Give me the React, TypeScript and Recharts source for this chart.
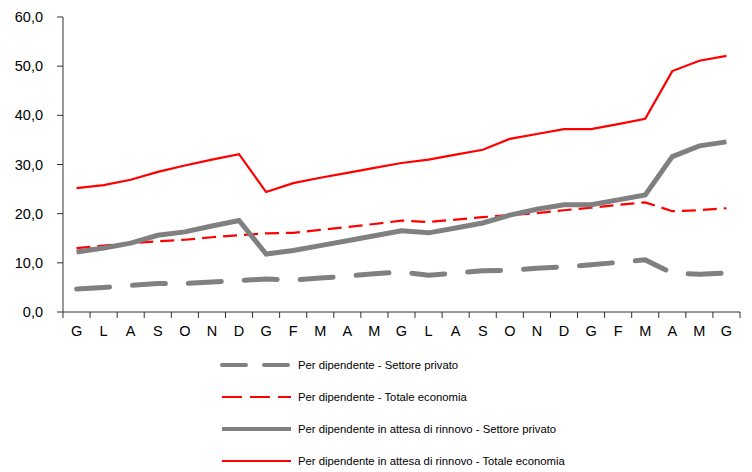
import React from 'react';
import { LineChart, Line, XAxis, YAxis, Legend } from 'recharts';

const months = ['G', 'L', 'A', 'S', 'O', 'N', 'D', 'G', 'F', 'M', 'A', 'M', 'G', 'L', 'A', 'S', 'O', 'N', 'D', 'G', 'F', 'M', 'A', 'M', 'G'];

const privatoDip = [4.7, 5.0, 5.4, 5.8, 5.8, 6.1, 6.4, 6.7, 6.5, 6.9, 7.3, 7.8, 8.1, 7.5, 7.9, 8.4, 8.5, 8.9, 9.2, 9.6, 10.1, 10.6, 7.9, 7.7, 7.9];
const totaleDip = [13.0, 13.5, 14.0, 14.4, 14.7, 15.2, 15.6, 16.0, 16.1, 16.7, 17.3, 17.9, 18.6, 18.3, 18.8, 19.3, 19.7, 20.1, 20.7, 21.2, 21.8, 22.3, 20.5, 20.7, 21.1];
const privatoAttesa = [12.2, 13.0, 14.0, 15.6, 16.3, 17.5, 18.6, 11.8, 12.5, 13.5, 14.5, 15.5, 16.5, 16.1, 17.1, 18.1, 19.7, 20.9, 21.8, 21.8, 22.8, 23.8, 31.6, 33.8, 34.6];
const totaleAttesa = [25.2, 25.8, 26.9, 28.5, 29.8, 31.0, 32.1, 24.4, 26.2, 27.3, 28.3, 29.3, 30.3, 31.0, 32.0, 33.0, 35.2, 36.2, 37.2, 37.2, 38.2, 39.3, 49.0, 51.1, 52.1];

const yTicks = [0, 10, 20, 30, 40, 50, 60];

const data = months.map((m, i) => ({
  i,
  m,
  privatoDip: privatoDip[i],
  totaleDip: totaleDip[i],
  privatoAttesa: privatoAttesa[i],
  totaleAttesa: totaleAttesa[i],
}));

// ticks at every category centre (labels) and every boundary (tick marks)
const xTicks: number[] = [];
for (let k = 0; k <= months.length; k++) {
  xTicks.push(k - 0.5);
  if (k < months.length) xTicks.push(k);
}

const FONT = 'Liberation Sans, Arial, sans-serif';

const series = [
  { key: 'privatoDip', name: 'Per dipendente - Settore privato', color: '#808080', width: 5, dash: '33 23', legendDash: '24 18', cap: 'round' as const },
  { key: 'totaleDip', name: 'Per dipendente - Totale economia', color: '#ff0000', width: 2.2, dash: '14 7', legendDash: '20 8', cap: 'butt' as const },
  { key: 'privatoAttesa', name: 'Per dipendente in attesa di rinnovo - Settore privato', color: '#808080', width: 5, dash: undefined, legendDash: undefined, cap: 'butt' as const },
  { key: 'totaleAttesa', name: 'Per dipendente in attesa di rinnovo - Totale economia', color: '#ff0000', width: 2.2, dash: undefined, legendDash: undefined, cap: 'butt' as const },
];

const XTick = (props: any) => {
  const { x, y, payload } = props;
  const v = payload.value as number;
  if (!Number.isInteger(v)) {
    return <line x1={x} x2={x} y1={y} y2={y + 6} stroke="#333" strokeWidth={1} />;
  }
  return (
    <text x={x} y={y + 24} textAnchor="middle" fontSize={14.5} fontFamily={FONT} fill="#000">
      {months[v]}
    </text>
  );
};

const LegendBox = () => (
  <div style={{ position: 'relative', width: 744, height: 120, fontFamily: FONT }}>
    {series.map((s, idx) => (
      <div key={s.key} style={{ position: 'absolute', top: idx * 32, left: 0, height: 30, width: 744 }}>
        <svg width={290} height={30} style={{ position: 'absolute', left: 0, top: 0 }}>
          <line
            x1={214}
            x2={283}
            y1={15}
            y2={15}
            stroke={s.color}
            strokeWidth={s.width === 5 ? 4 : 2.2}
            strokeDasharray={s.legendDash}
            strokeLinecap={s.cap}
          />
        </svg>
        <span style={{ position: 'absolute', left: 290, top: 8, fontSize: 11.3, lineHeight: '14px', color: '#000', whiteSpace: 'nowrap' }}>
          {s.name}
        </span>
      </div>
    ))}
  </div>
);

export default function App() {
  return (
    <LineChart width={744} height={464} data={data} margin={{ top: 9, right: 12, left: 0, bottom: 10 }}>
      <XAxis
        dataKey="i"
        type="number"
        domain={[-0.5, months.length - 0.5]}
        ticks={xTicks}
        interval={0}
        tick={<XTick />}
        tickLine={false}
        tickSize={0}
        tickMargin={0}
        height={30}
        axisLine={{ stroke: '#333' }}
        allowDataOverflow
      />
      <YAxis
        domain={[0, 60]}
        ticks={yTicks}
        interval={0}
        width={55}
        tickSize={6}
        tickMargin={14}
        tickFormatter={(v: number) => v.toFixed(1).replace('.', ',')}
        tick={{ fontSize: 14.5, fontFamily: FONT, fill: '#000' }}
        tickLine={{ stroke: '#333' }}
        axisLine={{ stroke: '#333' }}
      />
      <Legend
        layout="vertical"
        align="center"
        verticalAlign="bottom"
        content={<LegendBox />}
        wrapperStyle={{ top: 342, left: 0, bottom: 'auto', width: 744 }}
      />
      {series.map((s) => (
        <Line
          key={s.key}
          dataKey={s.key}
          name={s.name}
          stroke={s.color}
          strokeWidth={s.width}
          strokeDasharray={s.dash}
          strokeLinecap={s.cap}
          dot={false}
          activeDot={false}
          isAnimationActive={false}
          type="linear"
        />
      ))}
    </LineChart>
  );
}
